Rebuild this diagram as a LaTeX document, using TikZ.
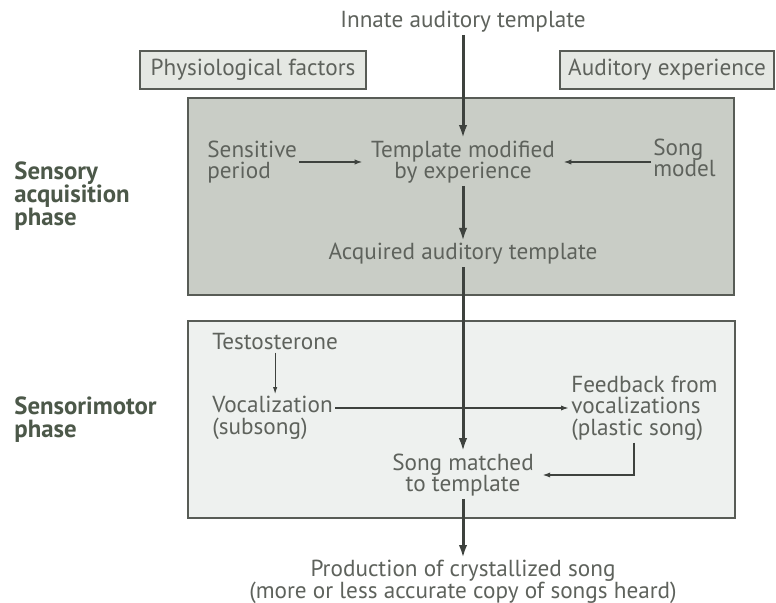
\documentclass[tikz,border=0pt]{standalone}
\usepackage{fontspec}
\setmainfont{PT Sans}
\usepackage{xcolor}
\usepackage{tikz}
\usetikzlibrary{arrows.meta,positioning,calc}
\definecolor{Ink}{HTML}{5E625C}
\definecolor{LabelInk}{HTML}{4C5849}
\definecolor{Wire}{HTML}{3E423E}
\definecolor{Edge}{HTML}{585C56}
\definecolor{MidGray}{HTML}{C9CDC6}
\definecolor{PaleBox}{HTML}{E5E8E3}
\definecolor{PaleMotor}{HTML}{EEF1EF}
\tikzset{
  txt/.style={font=\fontsize{11.6}{10.8}\selectfont,text=Ink,align=center,inner sep=1pt},
  lefttxt/.style={txt,align=left},
  phaselabel/.style={font=\fontsize{12.4}{11.5}\selectfont\bfseries,text=LabelInk,align=left,inner sep=0pt},
  factorbox/.style={txt,draw=Edge,line width=1pt,fill=PaleBox,minimum height=19pt},
  sensorybox/.style={draw=Edge,line width=1pt,fill=MidGray,minimum width=273pt,minimum height=98.5pt},
  motorbox/.style={draw=Edge,line width=1pt,fill=PaleMotor,minimum width=273.5pt,minimum height=98.5pt},
  mainflow/.style={-{Latex[length=6.5pt,width=4.2pt]},line width=1.5pt,draw=Wire},
  flow/.style={-{Latex[length=4pt,width=2.6pt]},line width=0.8pt,draw=Wire},
  thinflow/.style={-{Latex[length=3.5pt,width=2.2pt]},line width=0.5pt,draw=Wire}
}

\begin{document}
\begin{tikzpicture}[x=0.5pt,y=-0.5pt]
  \useasboundingbox[fill=white] (0,0) rectangle (776,603);
  \node[factorbox,minimum width=113pt] (phys) at (253,70) {Physiological factors};
  \node[factorbox,minimum width=107pt] (aud) at (667,70) {Auditory experience};
  \node[sensorybox] (sensory) at (461,196.5) {};
  \node[motorbox] (motor) at (461.5,420) {};
  \node[phaselabel,anchor=west] (acqlabel) at (14,196) {Sensory\\acquisition\\phase};
  \node[phaselabel,anchor=west] (motorlabel) at (14,420) {Sensorimotor\\phase};
  \node[txt] (innate) at (463,22) {Innate auditory template};
  \node[txt] (templ) at (463,162) {Template modified\\by experience};
  \node[lefttxt,anchor=west] (sens) at (205,162) {Sensitive\\period};
  \node[lefttxt,anchor=west] (songm) at (651,158) {Song\\model};
  \node[txt] (acq) at (463,254) {Acquired auditory template};
  \node[lefttxt,anchor=west] (testo) at (210,342) {Testosterone};
  \node[lefttxt,anchor=west] (voc) at (210,418) {Vocalization\\(subsong)};
  \node[lefttxt,anchor=west] (feed) at (569,408) {Feedback from\\vocalizations\\(plastic song)};
  \node[txt] (match) at (463,475) {Song matched\\to template};
  \node[txt] (prod) at (463,582) {Production of crystallized song\\(more or less accurate copy of songs heard)};
  \draw[mainflow] (innate) -- (templ);
  \draw[mainflow] (templ) -- (acq);
  \draw[mainflow] (acq) -- (match);
  \draw[mainflow] (match) -- (prod);
  \draw[flow,shorten >=3pt] (sens.east) -- (templ.west);
  \draw[flow,shorten >=3pt] (songm.west |- templ.east) -- (templ.east);
  \draw[thinflow] (testo.south) -- (testo.south |- voc.north);
  \draw[flow,line width=1pt] (voc.east |- feed.west) -- (feed.west);
  \draw[flow,line width=1pt,shorten >=3pt] ([xshift=-5pt]feed.south) |- (match.east);
\end{tikzpicture}
\end{document}
